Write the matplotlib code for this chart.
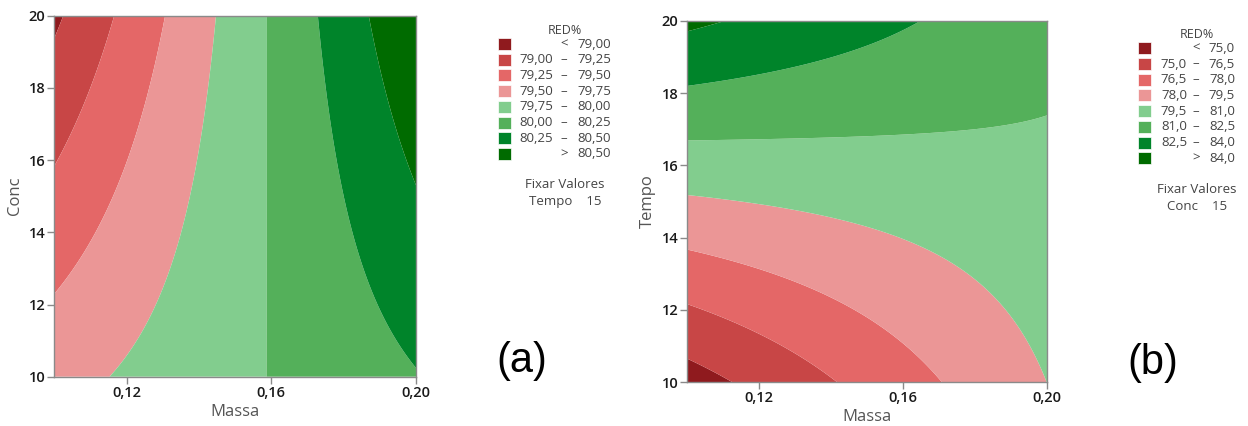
import numpy as np
import matplotlib
matplotlib.use("Agg")
import matplotlib.pyplot as plt
from matplotlib.patches import Rectangle

plt.rcParams['font.family'] = ['Open Sans', 'DejaVu Sans']

# faixas dos fatores
massa_lim = [0.10, 0.20]
conc_lim = [10, 20]
tempo_lim = [10, 20]

# modelo em unidades codificadas: const, Massa, outro fator, Massa*outro
coef_a = [79.897, 0.588, -0.053, 0.300]   # Massa x Conc (Tempo = 15)
coef_b = [79.92, 0.598, 2.99, -1.98]      # Massa x Tempo (Conc = 15)

niveis_a = [79.00, 79.25, 79.50, 79.75, 80.00, 80.25, 80.50]
niveis_b = [75.0, 76.5, 78.0, 79.5, 81.0, 82.5, 84.0]

cores = ['#8f1a1e', '#c84646', '#e46767', '#eb9696',
         '#82cd8e', '#54b05a', '#00842a', '#006b00']

W, H = 1248, 426
fig = plt.figure(figsize=(W / 100, H / 100), dpi=100)


def px_box(x0, y0, x1, y1):
    return [x0 / W, 1 - y1 / H, (x1 - x0) / W, (y1 - y0) / H]


def superficie(coef, ylim):
    m = np.linspace(massa_lim[0], massa_lim[1], 300)
    y = np.linspace(ylim[0], ylim[1], 300)
    M, Y = np.meshgrid(m, y)
    u = (M - 0.15) / 0.05
    v = (Y - 15) / 5
    Z = coef[0] + coef[1] * u + coef[2] * v + coef[3] * u * v
    return M, Y, Z


def painel(box, coef, ylim, niveis, ylabel):
    ax = fig.add_axes(box)
    M, Y, Z = superficie(coef, ylim)
    lv = [min(Z.min(), niveis[0]) - 1] + niveis + [max(Z.max(), niveis[-1]) + 1]
    ax.contourf(M, Y, Z, levels=lv, colors=cores, antialiased=True)
    ax.set_xlim(massa_lim)
    ax.set_ylim(ylim)
    ax.set_xticks([0.12, 0.16, 0.20])
    ax.set_xticklabels(['0,12', '0,16', '0,20'])
    ax.set_yticks([10, 12, 14, 16, 18, 20])
    for s in ax.spines.values():
        s.set_color('#8a8a8a')
        s.set_linewidth(1.0)
    ax.tick_params(colors='#8a8a8a', labelcolor='#1a1a1a', labelsize=10.5,
                   length=5, width=1, pad=1.5)
    for t in ax.get_xticklabels() + ax.get_yticklabels():
        t.set_fontweight('semibold')
    ax.set_xlabel('Massa', fontsize=12, color='#555555', labelpad=3)
    ax.set_ylabel(ylabel, fontsize=12, color='#555555', labelpad=4)
    return ax


def legenda(x_patch, y0, niveis, fmt, x_lo, x_dash, x_hi, fixo):
    fig.text((x_dash + 1) / W, 1 - (y0 - 14) / H, 'RED%', fontsize=9, color='#444444',
             ha='center', va='center')
    dy = 15.7
    rotulos = [('', '<', fmt(niveis[0]))]
    for a, b in zip(niveis[:-1], niveis[1:]):
        rotulos.append((fmt(a), '–', fmt(b)))
    rotulos.append(('', '>', fmt(niveis[-1])))
    for i, (lo, sep, hi) in enumerate(rotulos):
        yc = y0 + i * dy
        fig.add_artist(Rectangle((x_patch / W, 1 - (yc + 6) / H), 13 / W, 12 / H,
                                 transform=fig.transFigure, facecolor=cores[i],
                                 edgecolor='white', linewidth=0.5))
        kw = dict(fontsize=9.5, color='#444444', va='center')
        fig.text(x_lo / W, 1 - yc / H, lo, ha='right', **kw)
        fig.text(x_dash / W, 1 - yc / H, sep, ha='center', **kw)
        fig.text(x_hi / W, 1 - yc / H, hi, ha='right', **kw)
    yf = y0 + 7 * dy + 31
    fig.text((x_dash + 1) / W, 1 - yf / H, 'Fixar Valores', fontsize=9.5, color='#444444',
             ha='center', va='center')
    fig.text((x_dash + 1) / W, 1 - (yf + 17) / H, fixo, fontsize=9.5, color='#444444',
             ha='center', va='center')


painel(px_box(54.3, 15.7, 416, 376.7), coef_a, conc_lim, niveis_a, 'Conc')
painel(px_box(687.3, 20.7, 1047.3, 382.3), coef_b, tempo_lim, niveis_b, 'Tempo')

legenda(498, 44, niveis_a, lambda v: f'{v:.2f}'.replace('.', ','), 553, 564, 611,
        'Tempo    15')
legenda(1138, 48.3, niveis_b, lambda v: f'{v:.1f}'.replace('.', ','), 1187, 1196, 1235,
        'Conc    15')

fig.text(522 / W, 1 - 361 / H, '(a)', fontsize=30, family=['Liberation Sans', 'DejaVu Sans'],
         ha='center', va='center', color='black')
fig.text(1153 / W, 1 - 363 / H, '(b)', fontsize=30, family=['Liberation Sans', 'DejaVu Sans'],
         ha='center', va='center', color='black')

fig.savefig('out.png', dpi=100, facecolor='white')
